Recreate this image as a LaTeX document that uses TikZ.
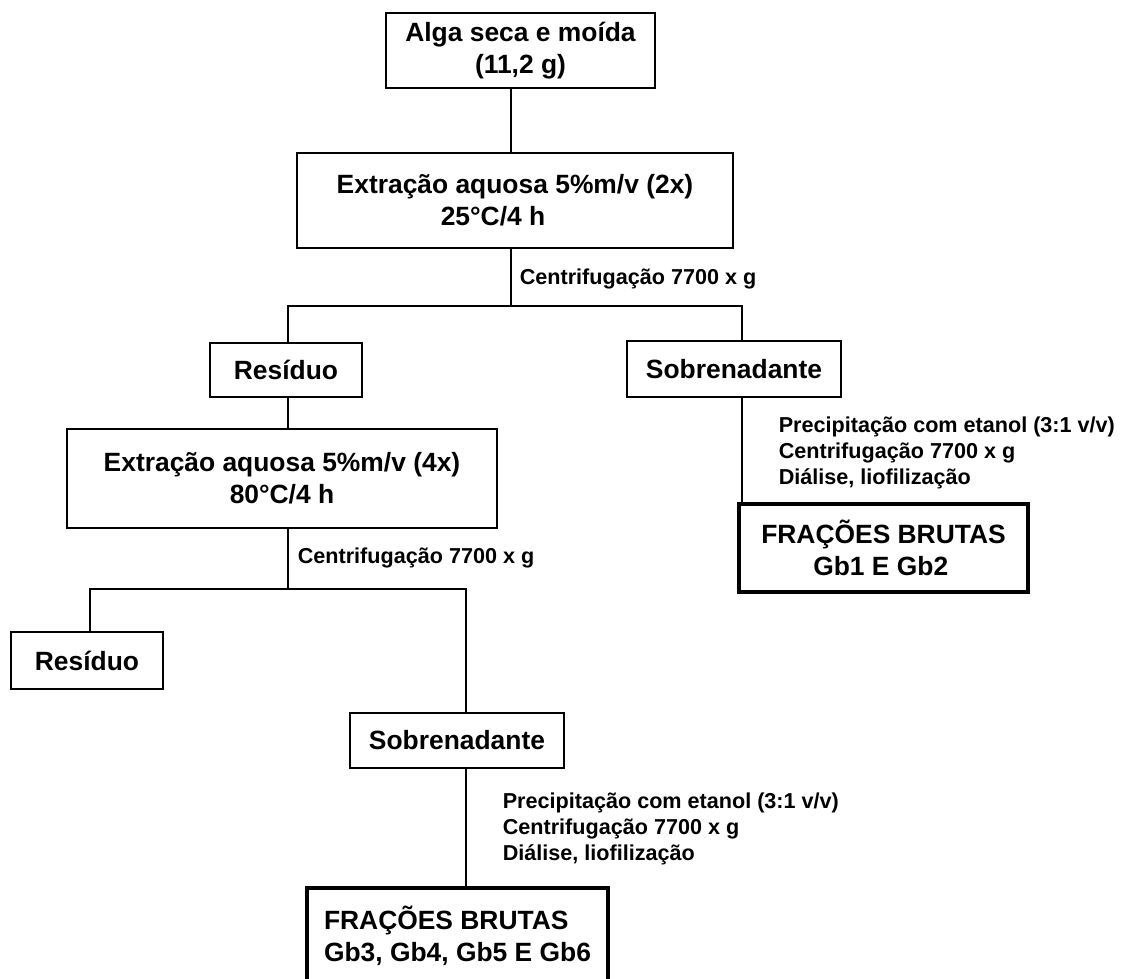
\documentclass[tikz,border=0pt]{standalone}
\usepackage{fontspec}
\setmainfont{Liberation Sans}
\usetikzlibrary{positioning}

\begin{document}
\begin{tikzpicture}[x=0.5pt,y=-0.5pt,line width=0.8pt,
	box_node/.style={draw,line width=0.8pt,inner sep=0pt,align=center,font=\fontsize{13.2}{16}\selectfont\bfseries},
	final_node/.style={box_node,line width=2.2pt,align=left},
	step_label/.style={anchor=west,inner sep=0pt,align=left,font=\fontsize{10.8}{13}\selectfont\bfseries}]

	\useasboundingbox (0,0) rectangle (1122,978);

	\node[box_node,minimum width=134.5pt,minimum height=37.5pt] (alga) at (520.5,50.5) {Alga seca e moída\\(11,2 g)};
	\node[box_node,minimum width=218pt,minimum height=47.5pt] (ext1) at (515,200.5) {Extração aquosa 5\%m/v (2x)\\25°C/4 h\hspace*{22pt}};

	\node[box_node,minimum width=76pt,minimum height=27pt] (res1) at (286,370) {Resíduo};
	\node[box_node,minimum width=107pt,minimum height=28pt] (sob1) at (734,369) {Sobrenadante};

	\node[box_node,minimum width=215pt,minimum height=49.5pt] (ext2) at (282,478.5) {Extração aquosa 5\%m/v (4x)\\80°C/4 h};
	\node[final_node,minimum width=144.5pt,minimum height=44pt] (fr1) at (883.5,548) {FRAÇÕES BRUTAS\\\hspace*{26pt}Gb1 E Gb2};

	\node[box_node,minimum width=76pt,minimum height=28.5pt] (res2) at (87,660.5) {Resíduo};
	\node[box_node,minimum width=107pt,minimum height=27.5pt] (sob2) at (457,740.5) {Sobrenadante};
	\node[final_node,minimum width=150.5pt,minimum height=48pt] (fr2) at (457.5,936) {FRAÇÕES BRUTAS\\Gb3, Gb4, Gb5 E Gb6};

	% branch points
	\coordinate (b1) at (511,306);
	\coordinate (b1l) at (288,306);
	\coordinate (b1r) at (742,306);
	\coordinate (b2) at (288,589);
	\coordinate (b2l) at (90,589);
	\coordinate (b2r) at (466,589);

	\draw (alga.south -| b1) -- (ext1.north -| b1);
	\draw (ext1.south -| b1) -- (b1);
	\draw (res1.north -| b1l) -- (b1l) -- (b1r) -- (sob1.north -| b1r);
	\draw (res1.south -| b1l) -- (ext2.north -| b1l);
	\draw (sob1.south -| b1r) -- (fr1.north -| b1r);

	\draw (ext2.south -| b2) -- (b2);
	\draw (res2.north -| b2l) -- (b2l) -- (b2r) -- (sob2.north -| b2r);
	\draw (sob2.south -| b2r) -- (fr2.north -| b2r);

	\node[step_label] (c1) at (519,279) {Centrifugação 7700 x g};
	\node[step_label] (c2) at (297,558) {Centrifugação 7700 x g};
	\node[step_label] (p1) at (778,453) {Precipitação com etanol (3:1 v/v)\\Centrifugação 7700 x g\\Diálise, liofilização};
	\node[step_label] (p2) at (502,829) {Precipitação com etanol (3:1 v/v)\\Centrifugação 7700 x g\\Diálise, liofilização};
\end{tikzpicture}
\end{document}
